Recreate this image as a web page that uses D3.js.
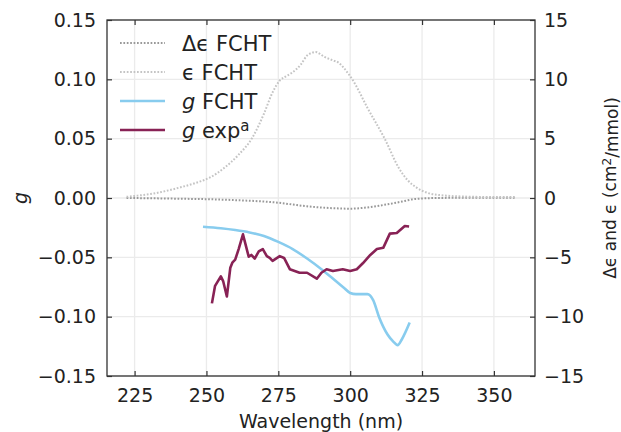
<!DOCTYPE html>
<html>
<head>
<meta charset="utf-8">
<script src="https://cdn.jsdelivr.net/npm/d3@7"></script>
<style>
  body { margin: 0; background: #fff; }
  text { font-family: "DejaVu Sans", sans-serif; fill: #222; }
</style>
</head>
<body>
<div class="chart"></div>
<script>
// Δε FCHT (right axis)
const dEpsWl  = [222.2, 230, 240, 250, 260, 270, 275, 280, 285, 290, 295, 300, 305, 310, 313, 318, 322, 326, 330, 340, 350, 357.5];
const dEpsVal = [0, -0.02, -0.06, -0.1, -0.18, -0.3, -0.4, -0.55, -0.7, -0.8, -0.87, -0.9, -0.82, -0.65, -0.53, -0.3, -0.1, -0.03, 0, 0.02, 0.02, 0.02];

// ε FCHT (right axis)
const epsWl  = [222.2, 226, 231, 236, 241, 246, 251, 256, 261, 266, 270, 273, 275.5, 278, 280, 283, 285, 288, 291, 294, 296, 298, 301, 306, 312, 317, 320, 323, 326.7, 331, 340, 350, 357.5];
const epsVal = [0.1, 0.2, 0.35, 0.6, 0.9, 1.25, 1.7, 2.5, 3.6, 5.1, 7.1, 8.9, 9.9, 10.3, 10.6, 11.3, 12.0, 12.3, 11.9, 11.6, 11.4, 10.9, 9.9, 7.6, 5.0, 2.5, 1.5, 0.9, 0.45, 0.25, 0.12, 0.08, 0.08];

// g FCHT (left axis)
const gCalcWl  = [248.8, 255, 260, 265, 270, 275, 280, 285, 290, 295, 298, 300, 302, 306, 308, 310, 313, 315, 316.5, 318, 320.7];
const gCalcVal = [-0.0242, -0.0255, -0.027, -0.029, -0.032, -0.037, -0.043, -0.051, -0.060, -0.070, -0.076, -0.080, -0.081, -0.081, -0.086, -0.100, -0.115, -0.121, -0.124, -0.119, -0.105];

// g exp (left axis)
const gExpWl  = [251.9, 253, 255, 255.8, 257.1, 258.3, 259, 260, 261.2, 262.7, 264.7, 265.6, 266.8, 268.2, 269.6, 271, 272, 273, 275.5, 277, 279, 282.4, 285, 288.4, 290, 291.8, 294, 297.4, 300, 302.3, 304.4, 307, 309.3, 311.5, 313.8, 316.2, 319, 320.5];
const gExpVal = [-0.0888, -0.074, -0.066, -0.070, -0.083, -0.0588, -0.0545, -0.052, -0.043, -0.0306, -0.0495, -0.048, -0.051, -0.045, -0.043, -0.049, -0.0505, -0.053, -0.049, -0.0505, -0.060, -0.063, -0.063, -0.068, -0.063, -0.060, -0.0615, -0.060, -0.0615, -0.060, -0.055, -0.048, -0.043, -0.042, -0.030, -0.0295, -0.0236, -0.024];

const xTicks = [225, 250, 275, 300, 325, 350];
const yTicks = [-0.15, -0.10, -0.05, 0.00, 0.05, 0.10, 0.15];
const y2Ticks = [-15, -10, -5, 0, 5, 10, 15];

const width = 621, height = 432;
const margin = { top: 20, right: 86, bottom: 56, left: 107 };

const svg = d3.select('.chart').append('svg')
    .attr('width', width).attr('height', height);

const x = d3.scaleLinear([215.4, 364.3], [margin.left, width - margin.right]);
const y = d3.scaleLinear([-0.15, 0.15], [height - margin.bottom, margin.top]);
const y2 = d3.scaleLinear([-15, 15], [height - margin.bottom, margin.top]);

// grid
const grid = svg.append('g').attr('stroke', '#ebebeb').attr('stroke-width', 1.3);
grid.selectAll('.gx').data(xTicks).join('line')
    .attr('x1', d => x(d)).attr('x2', d => x(d))
    .attr('y1', margin.top).attr('y2', height - margin.bottom);
grid.selectAll('.gy').data(yTicks).join('line')
    .attr('x1', margin.left).attr('x2', width - margin.right)
    .attr('y1', d => y(d)).attr('y2', d => y(d));

const fmt = s => s.replace('-', '\u2212');

// axes, ticks inward
const tickLen = 5;
const xAxisB = svg.append('g').attr('transform', `translate(0,${height - margin.bottom})`)
    .call(d3.axisBottom(x).tickValues(xTicks).tickSizeInner(-tickLen).tickSizeOuter(0).tickPadding(13));
const xAxisT = svg.append('g').attr('transform', `translate(0,${margin.top})`)
    .call(d3.axisTop(x).tickValues(xTicks).tickSizeInner(-tickLen).tickSizeOuter(0).tickFormat(''));
const yAxisL = svg.append('g').attr('transform', `translate(${margin.left},0)`)
    .call(d3.axisLeft(y).tickValues(yTicks).tickSizeInner(-tickLen).tickSizeOuter(0).tickPadding(11)
        .tickFormat(d => fmt(d3.format('.2f')(d))));
const yAxisR = svg.append('g').attr('transform', `translate(${width - margin.right},0)`)
    .call(d3.axisRight(y2).tickValues(y2Ticks).tickSizeInner(-tickLen).tickSizeOuter(0).tickPadding(9)
        .tickFormat(d => fmt(String(d))));

[xAxisB, xAxisT, yAxisL, yAxisR].forEach(a => {
    a.select('.domain').remove();
    a.selectAll('line').attr('stroke', '#333').attr('stroke-width', 1.2);
    a.selectAll('text').style('font-size', '19px').attr('fill', '#222')
        .style('font-family', '"DejaVu Sans", sans-serif');
});

// frame
svg.append('rect')
    .attr('x', margin.left).attr('y', margin.top)
    .attr('width', width - margin.left - margin.right)
    .attr('height', height - margin.top - margin.bottom)
    .attr('fill', 'none').attr('stroke', '#333').attr('stroke-width', 1.3);

// lines
const lineL = d3.line().x(d => x(d[0])).y(d => y(d[1]));
const lineR = d3.line().x(d => x(d[0])).y(d => y2(d[1])).curve(d3.curveMonotoneX);
const lineLs = d3.line().x(d => x(d[0])).y(d => y(d[1])).curve(d3.curveMonotoneX);

const series = [
    { label: 'dEps', wl: dEpsWl, val: dEpsVal, line: lineR, color: '#999', width: 2, dash: '1.7,1.7' },
    { label: 'eps', wl: epsWl, val: epsVal, line: lineR, color: '#c4c4c4', width: 2, dash: '1.7,1.7' },
    { label: 'gCalc', wl: gCalcWl, val: gCalcVal, line: lineLs, color: '#88ccee', width: 2.6, dash: null },
    { label: 'gExp', wl: gExpWl, val: gExpVal, line: lineL, color: '#882255', width: 2.6, dash: null }
];

svg.append('g').selectAll('path').data(series).join('path')
    .attr('d', s => s.line(d3.zip(s.wl, s.val)))
    .attr('fill', 'none')
    .attr('stroke', s => s.color)
    .attr('stroke-width', s => s.width)
    .attr('stroke-dasharray', s => s.dash)
    .attr('stroke-linejoin', 'round');

// legend
const legend = svg.append('g').attr('transform', 'translate(120,43)');
const rows = legend.selectAll('g').data(series).join('g')
    .attr('transform', (d, i) => `translate(0,${i * 29})`);
rows.append('line').attr('x1', 0).attr('x2', 45)
    .attr('stroke', s => s.color).attr('stroke-width', s => s.width)
    .attr('stroke-dasharray', s => s.dash);
const lt = rows.append('text').attr('x', 62).attr('dy', '0.36em').style('font-size', '21px');
lt.each(function (s) {
    const t = d3.select(this);
    if (s.label === 'dEps') { t.text('\u0394\u03f5 FCHT'); }
    else if (s.label === 'eps') { t.text('\u03f5 FCHT'); }
    else if (s.label === 'gCalc') {
        t.append('tspan').style('font-style', 'italic').text('g');
        t.append('tspan').text(' FCHT');
    } else {
        t.append('tspan').style('font-style', 'italic').text('g');
        t.append('tspan').text(' exp');
        t.append('tspan').attr('dy', '-0.45em').style('font-size', '15px').text('a');
    }
});

// axis labels
svg.append('text')
    .attr('x', (margin.left + width - margin.right) / 2).attr('y', 428)
    .attr('text-anchor', 'middle').style('font-size', '19px')
    .text('Wavelength (nm)');

svg.append('text')
    .attr('transform', `translate(27,${(margin.top + height - margin.bottom) / 2}) rotate(-90)`)
    .attr('text-anchor', 'middle').style('font-size', '19px').style('font-style', 'italic')
    .text('g');

const r = svg.append('text')
    .attr('transform', 'translate(616,188) rotate(-90)')
    .attr('text-anchor', 'middle').style('font-size', '17px');
r.append('tspan').text('\u0394\u03f5 and \u03f5 (cm');
r.append('tspan').attr('dy', '-0.45em').style('font-size', '12px').text('2');
r.append('tspan').attr('dy', '0.45em').text('/mmol)');
</script>
</body>
</html>
